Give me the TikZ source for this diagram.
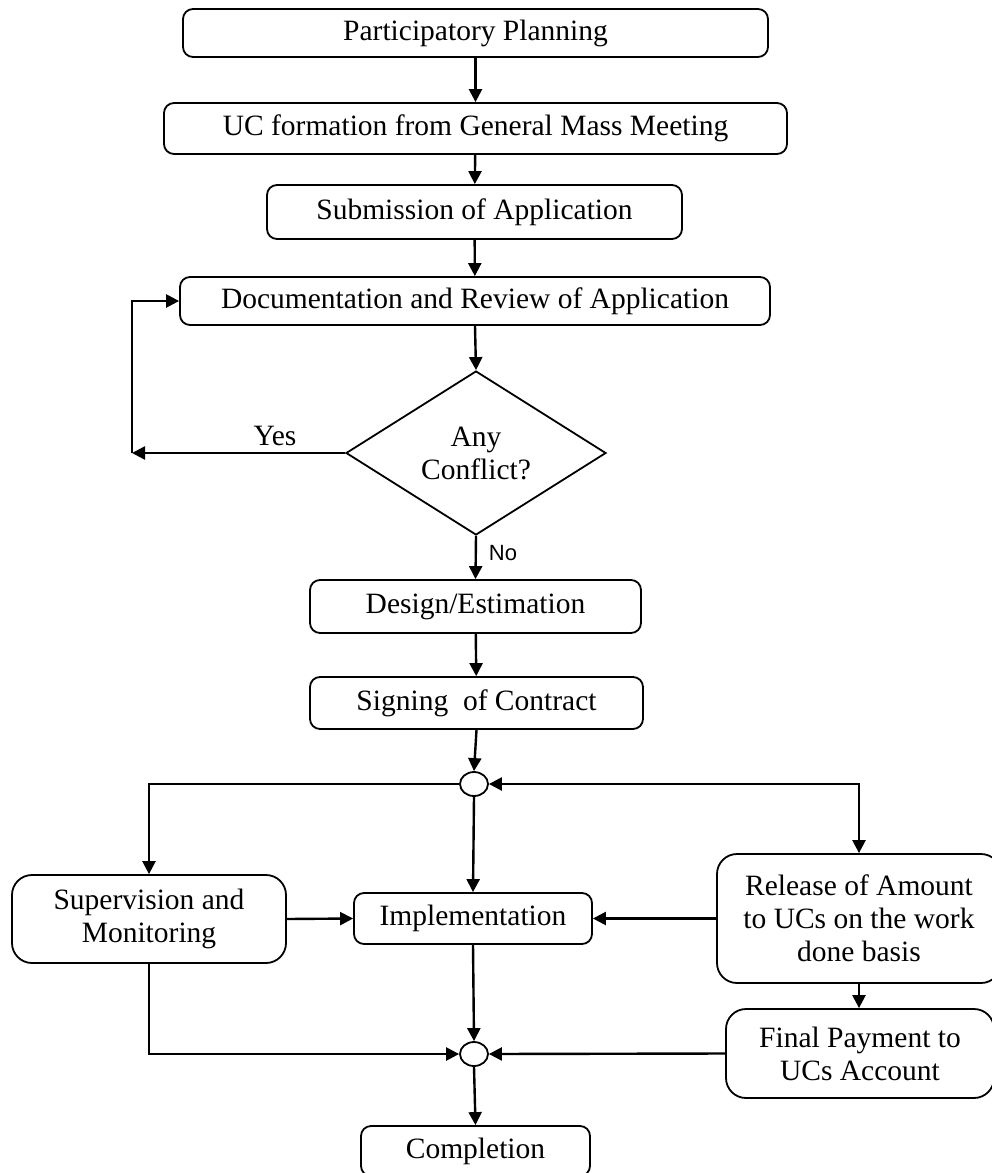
\documentclass[tikz,border=0pt]{standalone}
\usepackage{fontspec}
\setmainfont{Liberation Serif}
\newfontfamily\labelsans{Liberation Sans}
\usetikzlibrary{shapes.geometric,arrows.meta}
\begin{document}
\begin{tikzpicture}[x=1pt,y=-1pt,
  box/.style={draw, line width=1.8pt, rounded corners=10pt, inner sep=0pt, align=center, font=\fontsize{29.5}{33}\selectfont},
  bigbox/.style={box, rounded corners=20pt},
  junction/.style={draw, ellipse, line width=1.8pt, minimum width=28pt, minimum height=24pt, inner sep=0pt},
  tip/.tip={Triangle[length=13pt,width=13pt]},
  flow/.style={line width=2.4pt, -tip},
  twoway/.style={line width=2.4pt, tip-tip},
  txt/.style={inner sep=0pt, font=\fontsize{29.5}{33}\selectfont},
]
\useasboundingbox (0,0) rectangle (992,1173);
\clip (0,0) rectangle (992,1173);
\fill[white] (0,0) rectangle (992,1173);

\node[box, minimum width=585pt, minimum height=48pt] (b1) at (475.5,33) {Participatory Planning};
\node[box, minimum width=623pt, minimum height=51pt] (b2) at (475.5,128.5) {UC formation from General Mass Meeting};
\node[box, minimum width=415pt, minimum height=54pt] (b3) at (474.5,212) {Submission of Application};
\node[box, minimum width=590pt, minimum height=48pt] (b4) at (475,301) {Documentation and Review of Application};
\node[draw, diamond, line width=1.8pt, minimum width=260pt, minimum height=164pt, inner sep=0pt, aspect=1.585, align=center, font=\fontsize{29.5}{33}\selectfont] (dia) at (476,453) {Any\\Conflict?};
\node[box, minimum width=331pt, minimum height=53pt] (d1) at (475.5,606.5) {Design/Estimation};
\node[box, minimum width=333pt, minimum height=52pt] (s1) at (476.5,703) {Signing\ \ of Contract};
\node[junction] (c1) at (474,784) {};
\node[bigbox, minimum width=274pt, minimum height=88pt] (sup) at (149,919) {Supervision and\\Monitoring};
\node[box, minimum width=238pt, minimum height=51pt] (imp) at (473,918.5) {Implementation};
\node[bigbox, minimum width=284pt, minimum height=129pt] (rel) at (859,918.5) {Release of Amount\\to UCs on the work\\done basis};
\node[bigbox, minimum width=268pt, minimum height=89pt] (fin) at (860,1053.5) {Final Payment to\\UCs Account};
\node[junction] (c2) at (474,1054) {};
\node[box, minimum width=229pt, minimum height=50pt] (comp) at (475.5,1151) {Completion};

\node[txt] (yes) at (275,436) {Yes};
\node[inner sep=0pt, font=\labelsans\fontsize{22}{26}\selectfont] (no) at (503,553) {No};
\coordinate (loopc) at (132,453);

\draw[flow] (b1) -- (b2);
\draw[flow] (b2) -- (b3);
\draw[flow] (b3) -- (b4);
\draw[flow] (b4.south) -- (dia.north);
\draw[flow] (dia.south) -- (d1.north);
\draw[flow] (dia.west) -- (loopc);
\draw[flow] (loopc) |- (b4.west);
\draw[flow] (d1) -- (s1);
\draw[flow] (s1.south) -- (c1.north);
\draw[flow] (c1.south) -- (imp.north);
\draw[flow] (c1.west) -| (sup.north);
\draw[twoway] (c1.east) -| (rel.north);
\draw[flow] (sup.east) -- (imp.west);
\draw[flow] (rel.west) -- (imp.east);
\draw[flow] (rel.south) -- (rel.south |- fin.north);
\draw[flow] (imp.south) -- (c2.north);
\draw[flow] (sup.south) |- (c2.west);
\draw[flow] (fin.west) -- (c2.east);
\draw[flow] (c2.south) -- (comp.north);
\end{tikzpicture}
\end{document}
